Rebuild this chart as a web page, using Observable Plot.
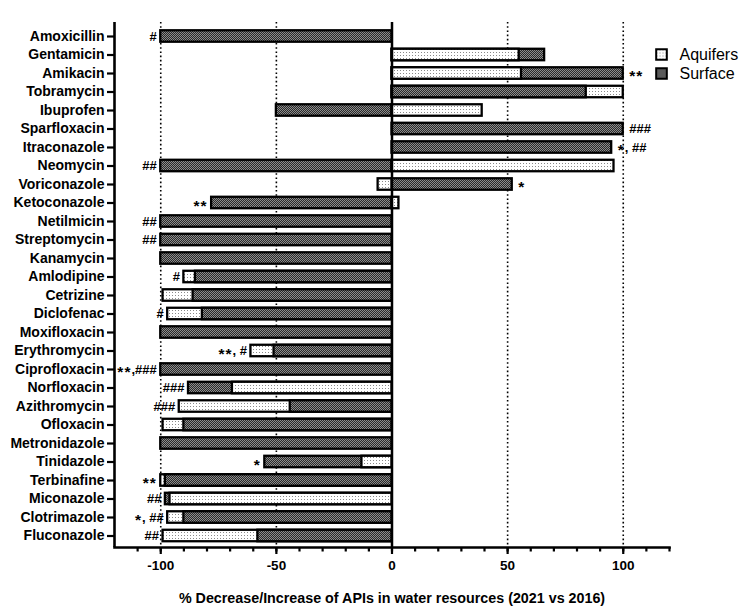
<!DOCTYPE html>
<html><head><meta charset="utf-8">
<script src="https://cdn.jsdelivr.net/npm/d3@7"></script>
<script src="https://cdn.jsdelivr.net/npm/@observablehq/plot@0.6"></script>
<style>body{margin:0;background:#fff}</style>
</head><body><div id="chart"></div>
<script>
const categories = ["Amoxicillin","Gentamicin","Amikacin","Tobramycin","Ibuprofen","Sparfloxacin","Itraconazole","Neomycin","Voriconazole","Ketoconazole","Netilmicin","Streptomycin","Kanamycin","Amlodipine","Cetrizine","Diclofenac","Moxifloxacin","Erythromycin","Ciprofloxacin","Norfloxacin","Azithromycin","Ofloxacin","Metronidazole","Tinidazole","Terbinafine","Miconazole","Clotrimazole","Fluconazole"];
const seriesNames = ["Aquifers","Surface"];
const aquifers = [null,55,56,100,39,null,null,96,-6,3,null,null,null,-90,-99,-97,null,-61,null,-69,-92,-99,null,-13,-100,-96,-97,-99];
const surface  = [-100,66,100,84,-50,100,95,-100,52,-78,-100,-100,-100,-85,-86,-82,-100,-51,-100,-88,-44,-90,-100,-55,-98,-98,-90,-58];
const annotNames  = ["Amoxicillin","Amikacin","Sparfloxacin","Itraconazole","Neomycin","Voriconazole","Ketoconazole","Netilmicin","Streptomycin","Amlodipine","Diclofenac","Erythromycin","Ciprofloxacin","Norfloxacin","Azithromycin","Tinidazole","Terbinafine","Miconazole","Clotrimazole","Fluconazole"];
const annotLabels = ["#","**","###","*, ##","##","*","**","##","##","#","#","**, #","**,###","###","###","*","**","##","*, ##","##"];
const annotSides  = ["left","right","right","right","left","right","left","left","left","left","left","left","left","left","left","left","left","left","left","left"];
const xTicks = [-100,-50,0,50,100];
const xMinorTicks = [-110,-100,-90,-80,-70,-60,-50,-40,-30,-20,-10,0,10,20,30,40,50,60,70,80,90,100,110,120];
const xLabel = "% Decrease/Increase of APIs in water resources (2021 vs 2016)";

const rows = [];
categories.forEach((name, i) => {
  const e = [];
  if (aquifers[i] != null) e.push({name, series: seriesNames[0], value: aquifers[i]});
  if (surface[i] != null) e.push({name, series: seriesNames[1], value: surface[i]});
  e.sort((a, b) => Math.abs(b.value) - Math.abs(a.value));
  rows.push(...e);
});
const annots = annotNames.map((name, i) => {
  const vals = rows.filter(r => r.name === name).map(r => r.value);
  const side = annotSides[i];
  return {name, label: annotLabels[i], side, x: side === "left" ? Math.min(0, ...vals) : Math.max(0, ...vals)};
});

const font = "'Liberation Sans', Arial, sans-serif";
const plot = Plot.plot({
  width: 750, height: 610,
  marginLeft: 114, marginRight: 81, marginTop: 22, marginBottom: 63,
  style: {fontFamily: font, background: "#fff", color: "#000"},
  x: {domain: [-120, 120]},
  y: {domain: categories, range: [26.75, 544.75], paddingInner: 0.38, paddingOuter: 0.19, round: false},
  color: {domain: seriesNames, range: ["url(#aqPat)", "url(#sfPat)"]},
  marks: [
    Plot.ruleX(xTicks.filter(d => d !== 0), {stroke: "#000", strokeWidth: 1.6, strokeDasharray: "1.6,2.6"}),
    Plot.barX(rows, {x1: 0, x2: "value", y: "name", fill: "series", stroke: "#000", strokeWidth: 2.3}),
    Plot.ruleX([0], {stroke: "#000", strokeWidth: 2.5}),
    Plot.text(annots.filter(d => d.side === "left"), {x: "x", y: "name", text: "label", textAnchor: "end", dx: -4, fontSize: 13, fontWeight: "bold"}),
    Plot.text(annots.filter(d => d.side === "right"), {x: "x", y: "name", text: "label", textAnchor: "start", dx: 6, fontSize: 13, fontWeight: "bold"}),
    Plot.axisY({tickSize: 7, tickPadding: 3, fontSize: 14, fontWeight: "bold", strokeWidth: 2.2, label: null}),
    Plot.axisX(xMinorTicks, {tickSize: 4.5, tickFormat: () => "", strokeWidth: 2.2, label: null}),
    Plot.axisX(xTicks, {tickSize: 7, tickPadding: 6, fontSize: 13.5, fontWeight: "bold", strokeWidth: 2.2, label: null, tickFormat: d => String(d)}),
    Plot.ruleX([-120], {stroke: "#000", strokeWidth: 2.6}),
    Plot.frame({anchor: "bottom", stroke: "#000", strokeWidth: 2.6}),
    Plot.text([xLabel], {text: d => d, frameAnchor: "bottom", lineAnchor: "middle", dy: 51, fontSize: 14.3, fontWeight: "bold"}),
    ...seriesNames.flatMap((s, i) => [
      Plot.dot([s], {frameAnchor: "top-right", dx: -8, dy: 32 + i * 19, symbol: "square", r: 6, fill: d => d, stroke: "#000", strokeWidth: 2}),
      Plot.text([s], {frameAnchor: "top-right", lineAnchor: "middle", dx: 10, dy: 32 + i * 19, text: d => d, textAnchor: "start", fontSize: 16})
    ])
  ]
});

const svgEl = plot.tagName.toLowerCase() === "svg" ? plot : plot.querySelector("svg");
const defs = d3.select(svgEl).insert("defs", ":first-child");
const aq = defs.append("pattern").attr("id", "aqPat").attr("patternUnits", "userSpaceOnUse").attr("width", 3).attr("height", 3);
aq.append("rect").attr("width", 3).attr("height", 3).attr("fill", "#fff");
aq.append("rect").attr("x", 1).attr("y", 1).attr("width", 1).attr("height", 1).attr("fill", "#8a8a8a");
const sf = defs.append("pattern").attr("id", "sfPat").attr("patternUnits", "userSpaceOnUse").attr("width", 2).attr("height", 2);
sf.append("rect").attr("width", 2).attr("height", 2).attr("fill", "#2a2a2a");
sf.append("rect").attr("x", 0).attr("y", 0).attr("width", 1).attr("height", 1).attr("fill", "#8c8c8c");
sf.append("rect").attr("x", 1).attr("y", 1).attr("width", 1).attr("height", 1).attr("fill", "#8c8c8c");

// Render asterisks larger and vertically centred, as in the original figure
d3.select(svgEl).selectAll("text").each(function() {
  const t = this.textContent;
  if (!/^[*#, ]+$/.test(t) || !t.includes("*")) return;
  const runs = t.match(/\*+|[^*]+/g);
  this.textContent = "";
  let shifted = false;
  runs.forEach(r => {
    const ts = d3.select(this).append("tspan").text(r);
    if (r[0] === "*") {
      ts.attr("font-size", 15.5).attr("dy", shifted ? 0 : 3.5).attr("letter-spacing", 1);
      shifted = true;
    } else {
      ts.attr("dy", shifted ? -3.5 : 0);
      shifted = false;
    }
  });
});

document.getElementById("chart").appendChild(plot);
</script>
</body></html>
